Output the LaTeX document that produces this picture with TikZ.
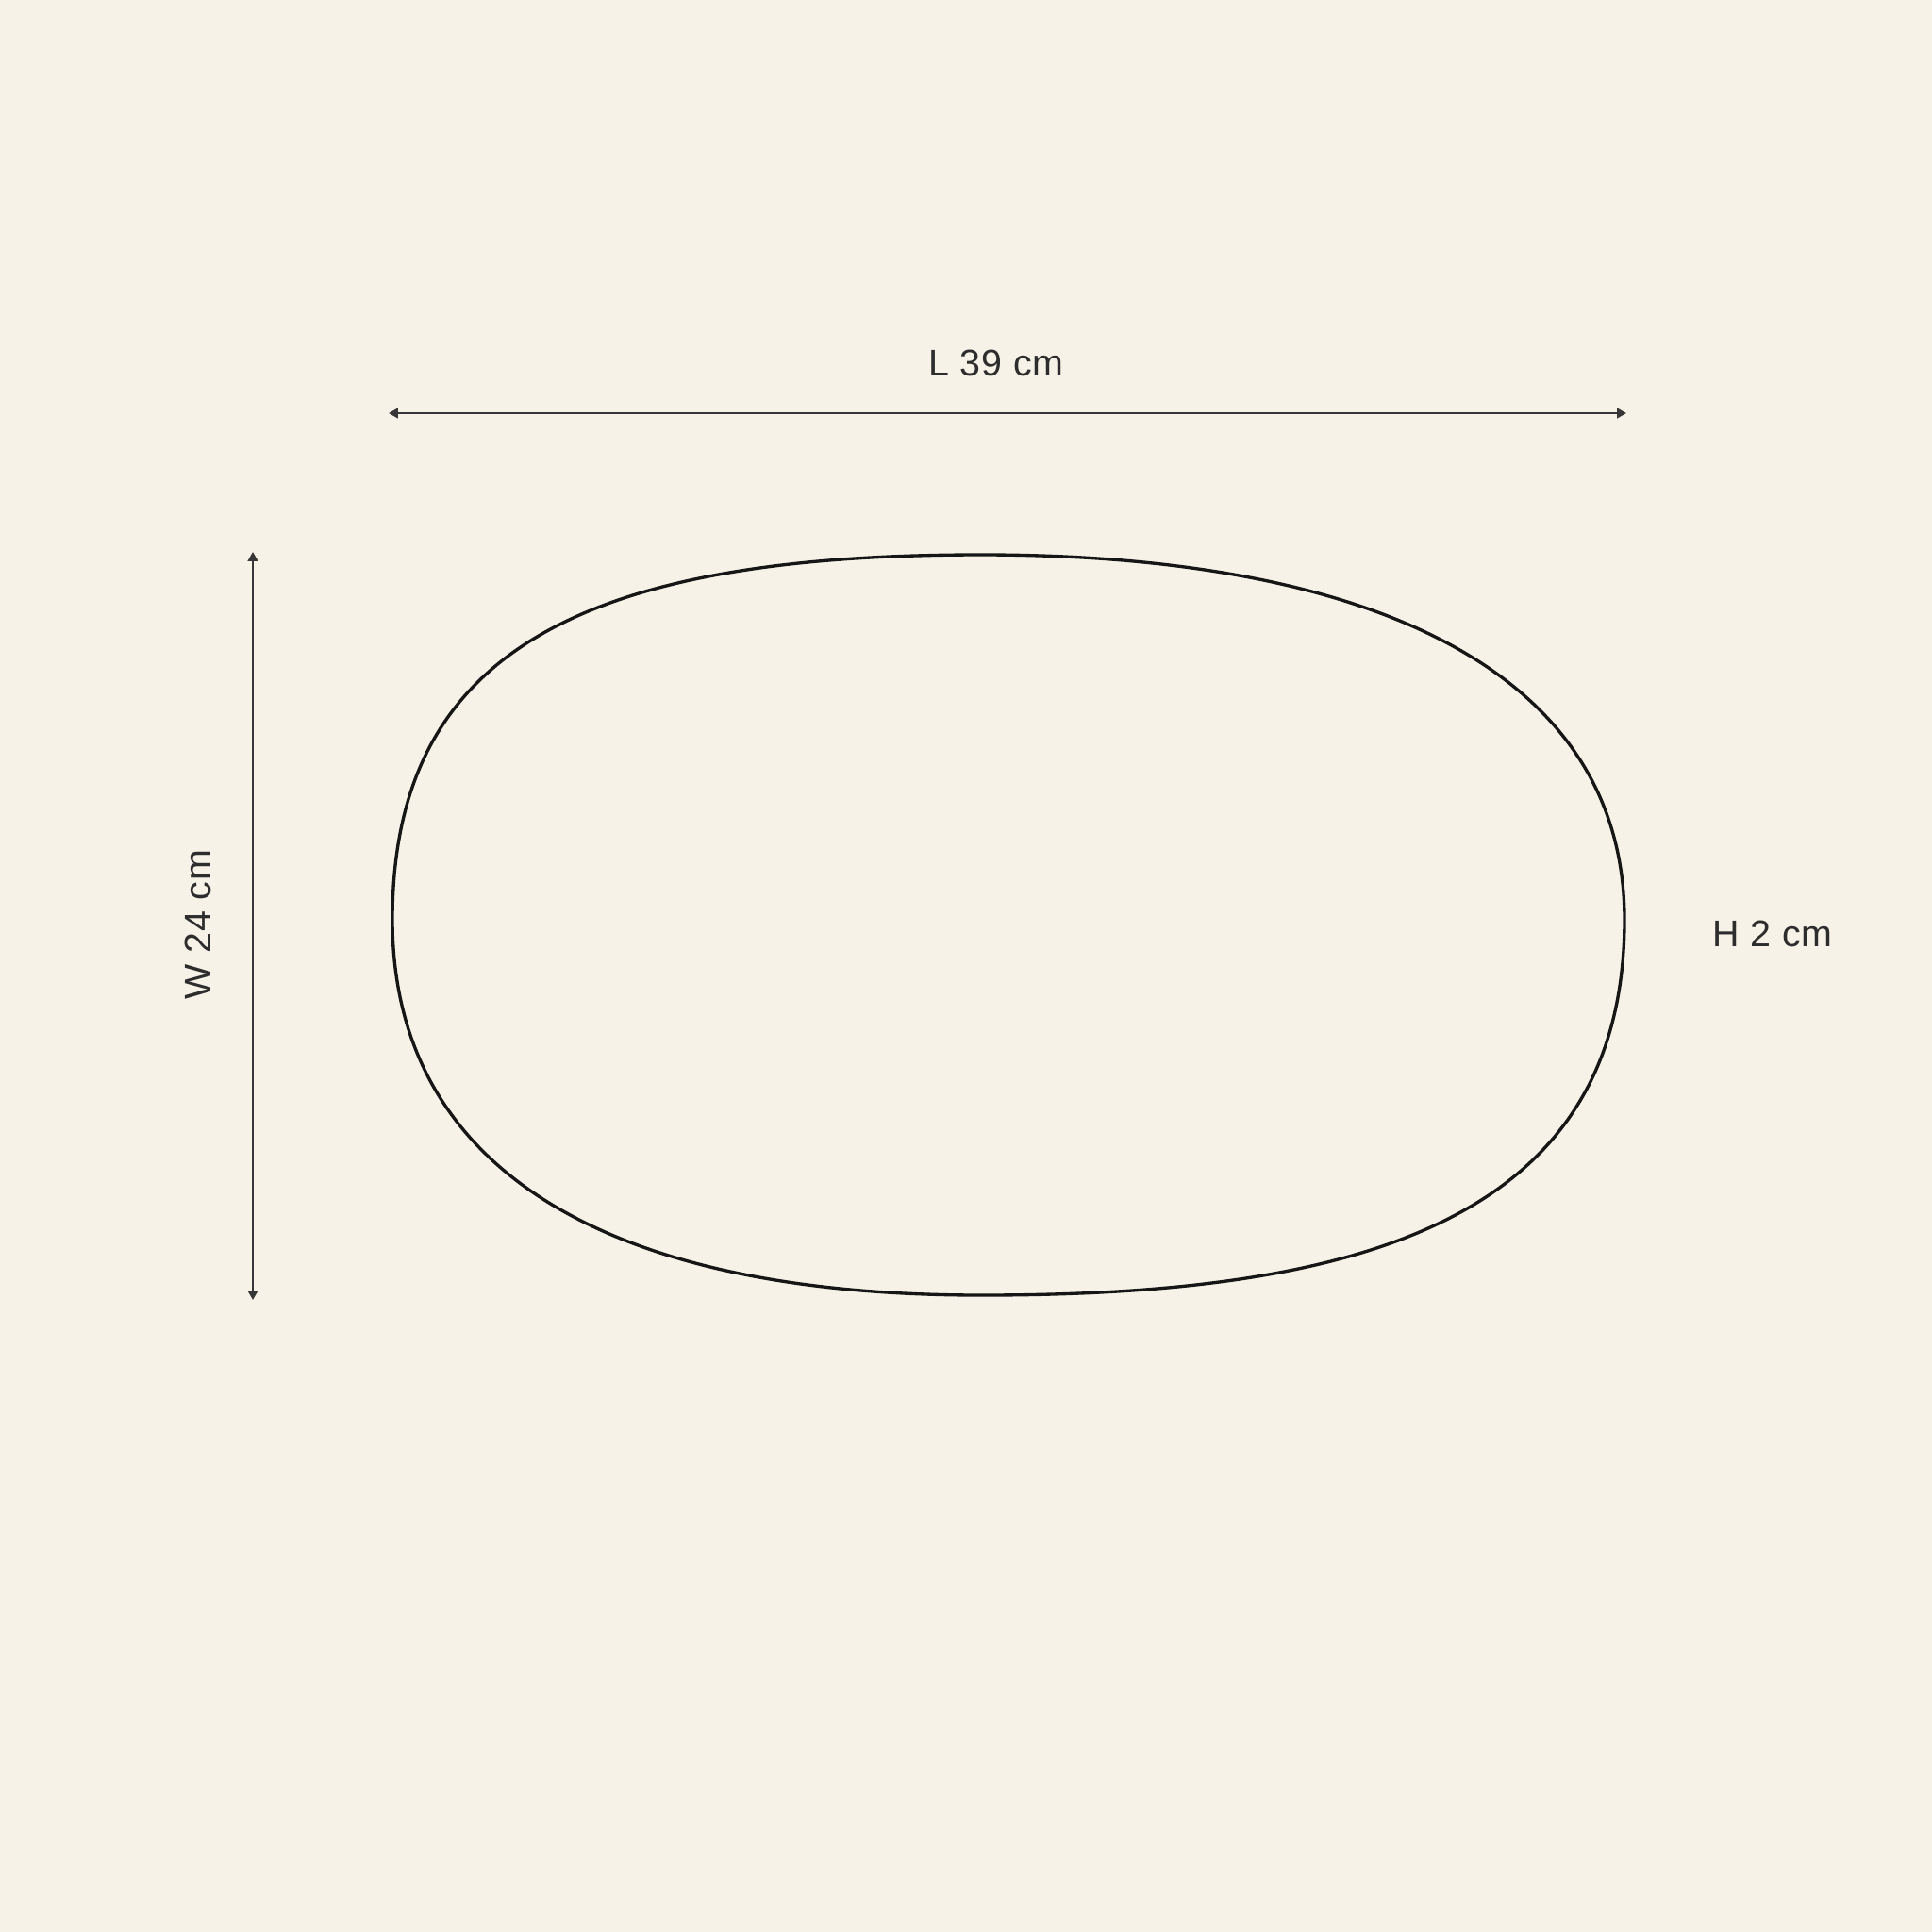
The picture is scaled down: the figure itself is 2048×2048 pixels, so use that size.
\documentclass[tikz,border=0pt]{standalone}
\usepackage{fontspec}
\setmainfont{Liberation Sans}
\newfontfamily\dimfont[LetterSpace=2]{Liberation Sans}
\usepackage{tikz}
\usepackage{xcolor}
\usetikzlibrary{arrows.meta, positioning, calc}

\definecolor{paper}{RGB}{247,242,231}
\definecolor{ink}{RGB}{22,22,22}
\definecolor{dimgray}{RGB}{55,55,55}

\tikzset{
	dimarrow/.style={draw=dimgray, line width=0.65pt,
		{Triangle[length=2.8pt,width=3pt]}-{Triangle[length=2.8pt,width=3pt]}},
	dimlabel/.style={text=ink!90, inner sep=0pt, font=\dimfont\fontsize{11.2}{13}\selectfont},
	outline/.style={draw=ink, line width=0.95pt}
}

\begin{document}
\begin{tikzpicture}[x=0.01cm, y=-0.01cm]
		\fill[paper] (0,0) rectangle (2048,2048);
		\useasboundingbox (0,0) rectangle (2048,2048);
		
		% Outline of the tray
		\coordinate (top) at (1040,588);
		\coordinate (right) at (1722,975);
		\coordinate (bottom) at (1040,1373);
		\coordinate (left) at (416,975);
		\draw[outline] (top)
			.. controls (1460,588) and (1722,715) .. (right)
			.. controls (1722,1295) and (1440,1373) .. (bottom)
			.. controls (620,1373) and (416,1225) .. (left)
			.. controls (416,695) and (610,588) .. (top) -- cycle;
		
		% Length
		\coordinate (lenL) at (412,438);
		\coordinate (lenR) at (1724,438);
		\draw[dimarrow] (lenL) -- (lenR);
		\node[dimlabel] (lenlabel) at (1056,385) {L 39 cm};
		
		% Width
		\coordinate (widT) at (268,585);
		\coordinate (widB) at (268,1378);
		\draw[dimarrow] (widT) -- (widB);
		\node[dimlabel, rotate=90] (widlabel) at (210,980) {W 24 cm};
		
		% Height
		\node[dimlabel] (hgtlabel) at (1879,990) {H 2 cm};
	  \end{tikzpicture}
\end{document}
